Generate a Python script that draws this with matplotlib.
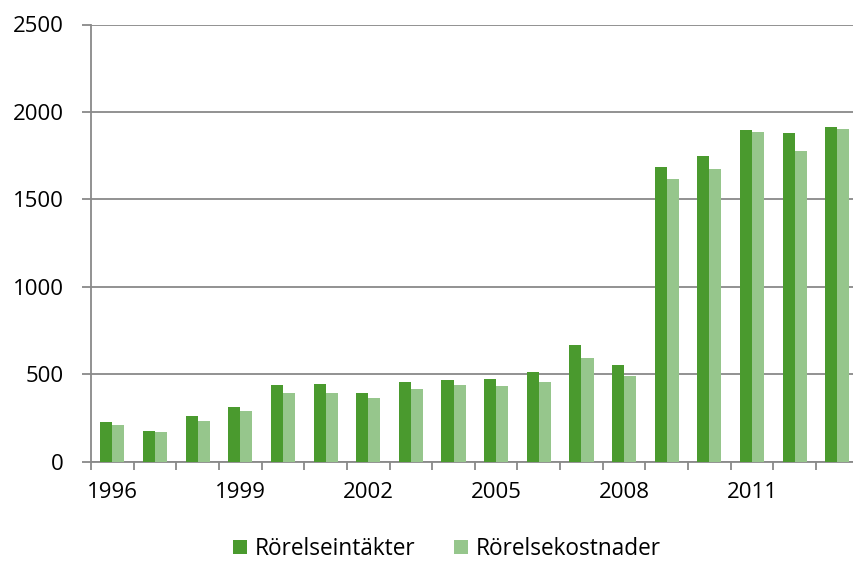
import matplotlib
matplotlib.use("Agg")
import matplotlib.pyplot as plt
import numpy as np

years = list(range(1996, 2014))
intakter = [224, 174, 258, 311, 436, 445, 390, 453, 466, 473, 510, 668, 550, 1684, 1747, 1896, 1881, 1915]
kostnader = [208, 167, 233, 287, 394, 392, 361, 413, 437, 433, 456, 592, 489, 1615, 1672, 1886, 1777, 1905]
series_names = ["Rörelseintäkter", "Rörelsekostnader"]
colors = ["#4a9a2e", "#96c68c"]
yticks = [0, 500, 1000, 1500, 2000, 2500]

plt.rcParams['font.family'] = ['Open Sans', 'DejaVu Sans']
fig = plt.figure(figsize=(8.54, 5.63), dpi=100)
ax = fig.add_axes([91/854, 1-461.5/563, (858.7-91)/854, (461.5-24.5)/563])

x = np.arange(len(years))
w = 0.283
ax.bar(x - w/2, intakter, width=w, color=colors[0], label=series_names[0], zorder=3)
ax.bar(x + w/2, kostnader, width=w, color=colors[1], label=series_names[1], zorder=3)

ax.set_xlim(-0.5, len(years) - 0.5)
ax.set_ylim(0, 2500)
ax.set_yticks(yticks)
ax.set_yticklabels([str(v) for v in yticks])
ax.yaxis.grid(True, color="#898989", lw=1.3, zorder=0)
ax.set_axisbelow(True)

ax.set_xticks(x[::3])
ax.set_xticklabels([str(y) for y in years[::3]])
ax.set_xticks(np.arange(-0.5, len(years), 1.0), minor=True)
ax.tick_params(axis='x', which='major', length=0, pad=14.5, labelsize=16, colors='black')
ax.tick_params(axis='x', which='minor', length=6, width=1.3, color="#898989", direction='out')
ax.tick_params(axis='y', length=6.5, width=1.3, color="#898989", pad=13, labelsize=16)

for s in ['top', 'right']:
    ax.spines[s].set_visible(False)
for s in ['left', 'bottom']:
    ax.spines[s].set_color("#898989")
    ax.spines[s].set_linewidth(1.3)

fig.legend(loc='center', bbox_to_anchor=(447/854, 1-549/563), ncol=2, frameon=False,
           fontsize=16.3, handlelength=0.6, handleheight=0.6, handletextpad=0.35,
           columnspacing=1.7, borderpad=0)

fig.savefig("out.png", dpi=100)
